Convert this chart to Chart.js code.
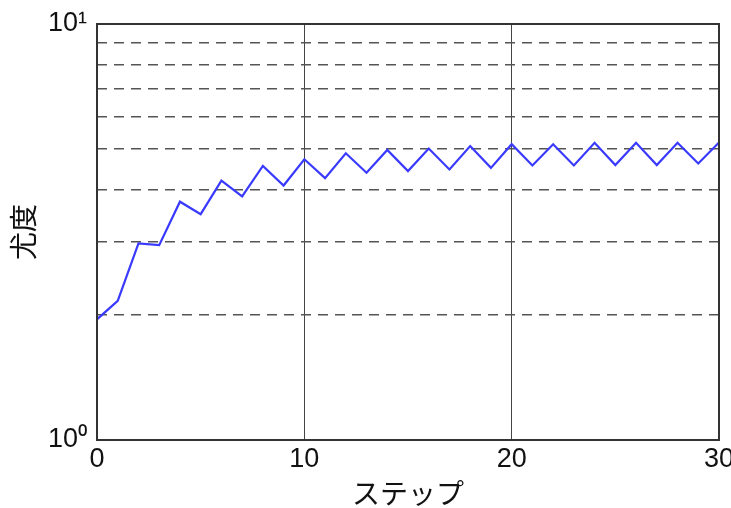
<!DOCTYPE html>
<html>
<head>
<meta charset="utf-8">
<script src="https://cdn.jsdelivr.net/npm/chart.js@4"></script>
<style>
  html, body { margin: 0; padding: 0; background: #fff; }
  #wrap { width: 731px; height: 508px; }
</style>
</head>
<body>
<div id="wrap"><canvas id="c" width="731" height="508"></canvas></div>
<script>
// Likelihood per training step (log scale)
const steps = [0,1,2,3,4,5,6,7,8,9,10,11,12,13,14,15,16,17,18,19,20,21,22,23,24,25,26,27,28,29,30];
const likelihood = [1.95,2.16,2.97,2.94,3.74,3.49,4.20,3.85,4.56,4.09,4.73,4.26,4.89,4.39,4.98,4.43,5.02,4.47,5.09,4.51,5.14,4.57,5.14,4.57,5.18,4.58,5.18,4.58,5.18,4.62,5.19];
const xTicks = [0, 10, 20, 30];
const yTickLabels = { 1: '10\u2070', 10: '10\u00B9' };
const xTitle = 'ステップ';
const yTitle = '尤度';

const tickFont = { family: "'Liberation Sans Narrow','Liberation Sans',sans-serif", size: 27 };
const titleFont = { family: "'Noto Sans CJK JP',sans-serif", size: 28 };

// Frame around the plotting area (top and right sides included)
const frame = {
  id: 'frame',
  afterDatasetsDraw(chart) {
    const a = chart.chartArea, ctx = chart.ctx;
    ctx.save();
    ctx.strokeStyle = '#333';
    ctx.lineWidth = 2;
    ctx.strokeRect(a.left, a.top, a.right - a.left, a.bottom - a.top);
    ctx.restore();
  }
};

new Chart(document.getElementById('c'), {
  type: 'line',
  data: {
    labels: steps,
    datasets: [{
      data: steps.map((s, i) => ({ x: s, y: likelihood[i] })),
      borderColor: '#3a3aff',
      borderWidth: 2.2,
      pointRadius: 0,
      tension: 0,
      fill: false
    }]
  },
  options: {
    responsive: false,
    animation: false,
    devicePixelRatio: 1,
    layout: { padding: { top: 24, right: 12, left: 0, bottom: 0 } },
    plugins: { legend: { display: false }, tooltip: { enabled: false } },
    scales: {
      x: {
        type: 'linear',
        min: 0, max: 30,
        afterBuildTicks(scale) { scale.ticks = xTicks.map(v => ({ value: v })); },
        afterFit(scale) { scale.height = 68; scale.paddingLeft = 0; scale.paddingRight = 0; },
        border: { display: false },
        grid: {
          color: ctx => (ctx.tick && (ctx.tick.value === 10 || ctx.tick.value === 20)) ? '#444' : 'rgba(0,0,0,0)',
          lineWidth: 1,
          drawTicks: false
        },
        ticks: { font: tickFont, color: '#111', padding: 3, maxRotation: 0 },
        title: { display: true, text: xTitle, font: titleFont, color: '#111', padding: { top: 0, bottom: -2 } }
      },
      y: {
        type: 'logarithmic',
        min: 1, max: 10,
        afterBuildTicks(scale) {
          scale.ticks = [1,2,3,4,5,6,7,8,9,10].map(v => ({ value: v }));
        },
        afterFit(scale) { scale.width = 97; scale.paddingTop = 0; scale.paddingBottom = 0; },
        border: { display: false, dash: [10, 7] },
        grid: {
          color: ctx => (ctx.tick && ctx.tick.value > 1 && ctx.tick.value < 10) ? '#555' : 'rgba(0,0,0,0)',
          lineWidth: 1.5,
          drawTicks: false
        },
        ticks: {
          font: tickFont, color: '#111', padding: 10, autoSkip: false,
          callback: v => yTickLabels[v] || ''
        },
        title: { display: true, text: yTitle, font: titleFont, color: '#111', padding: { top: 7, bottom: 4 } }
      }
    }
  },
  plugins: [frame]
});
</script>
</body>
</html>
